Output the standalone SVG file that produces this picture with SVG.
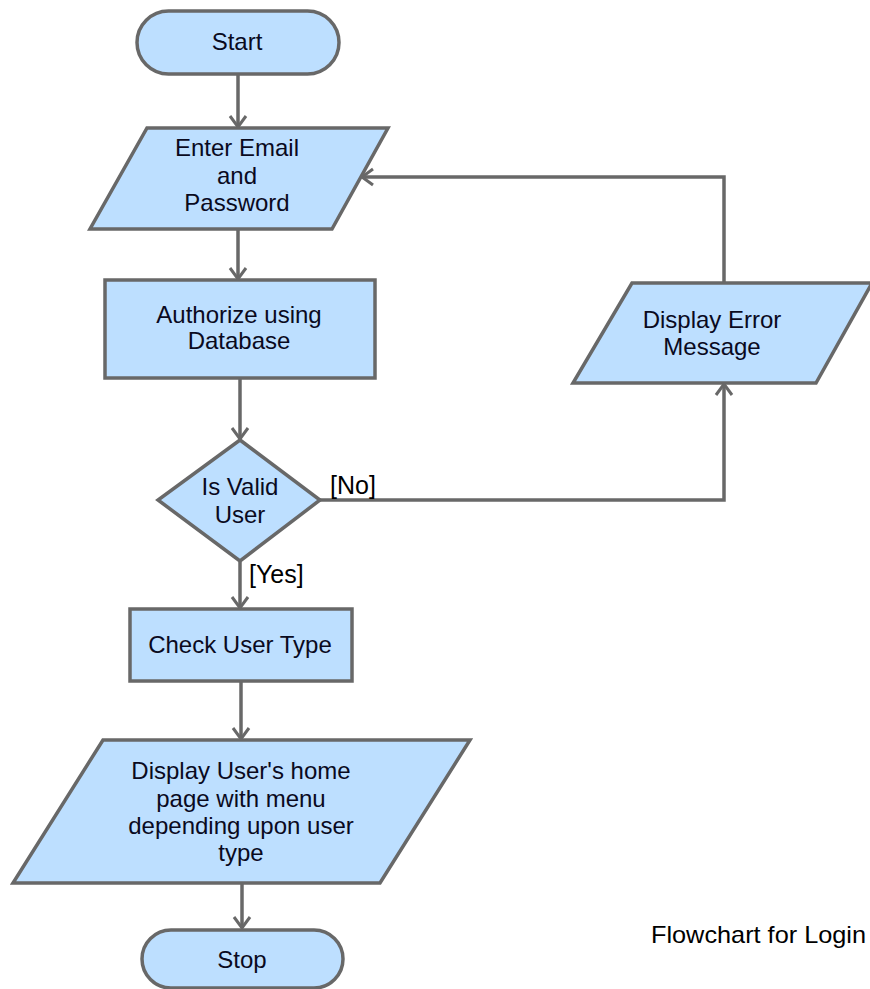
<svg xmlns="http://www.w3.org/2000/svg" width="870" height="989" viewBox="0 0 870 989">
  <style>
    .shape { fill: #bddfff; stroke: #686868; stroke-width: 3.5; stroke-linejoin: miter; }
    .edge { fill: none; stroke: #686868; stroke-width: 3.5; }
    .label { font-family: "Liberation Sans", Arial, sans-serif; font-size: 24px; fill: #0a0a1e; text-anchor: middle; }
    .guard { font-family: "Liberation Sans", Arial, sans-serif; font-size: 25px; fill: #000; }
    .caption { font-family: "Liberation Sans", Arial, sans-serif; font-size: 24px; fill: #000; }
  </style>
  <defs>
    <marker id="arrow" markerUnits="userSpaceOnUse" markerWidth="24" markerHeight="24" viewBox="-14 -12 16 24" refX="0" refY="0" orient="auto">
      <path d="M -11 -8 L 0 0 L -11 8" fill="none" stroke="#686868" stroke-width="3"/>
    </marker>
  </defs>
  <rect width="870" height="989" fill="#ffffff"/>

  <!-- connectors -->
  <g id="connectors">
    <path class="edge" d="M 238 74 L 238 127" marker-end="url(#arrow)"/>
    <path class="edge" d="M 238 229 L 238 279" marker-end="url(#arrow)"/>
    <path class="edge" d="M 240 379 L 240 439" marker-end="url(#arrow)"/>
    <path class="edge" d="M 240 562 L 240 608" marker-end="url(#arrow)"/>
    <path class="edge" d="M 241 682 L 241 739" marker-end="url(#arrow)"/>
    <path class="edge" d="M 242 884 L 242 928" marker-end="url(#arrow)"/>
    <path class="edge" d="M 320 500 L 724 500 L 724 384" marker-end="url(#arrow)"/>
    <path class="edge" d="M 724 283 L 724 177 L 362 177" marker-end="url(#arrow)"/>
    <text class="guard" x="330" y="494">[No]</text>
    <text class="guard" x="249" y="583">[Yes]</text>
  </g>

  <g id="start">
    <rect class="shape" x="137" y="11" width="202" height="63" rx="31.5" ry="31.5"/>
    <text class="label" x="237" y="50">Start</text>
  </g>

  <g id="enter-credentials">
    <polygon class="shape" points="147,128 388,128 332,229 90,229"/>
    <text class="label" x="237" y="156">Enter Email</text>
    <text class="label" x="237" y="184">and</text>
    <text class="label" x="237" y="211">Password</text>
  </g>

  <g id="authorize">
    <rect class="shape" x="105" y="280" width="270" height="98"/>
    <text class="label" x="239" y="323">Authorize using</text>
    <text class="label" x="239" y="349">Database</text>
  </g>

  <g id="is-valid">
    <polygon class="shape" points="240,440 320,500 240,561 158,500"/>
    <text class="label" x="240" y="495">Is Valid</text>
    <text class="label" x="240" y="523">User</text>
  </g>

  <g id="display-error">
    <polygon class="shape" points="632,283 872,283 816,383 573,383"/>
    <text class="label" x="712" y="328">Display Error</text>
    <text class="label" x="712" y="355">Message</text>
  </g>

  <g id="check-user-type">
    <rect class="shape" x="130" y="609" width="222" height="72"/>
    <text class="label" x="240" y="653">Check User Type</text>
  </g>

  <g id="display-home">
    <polygon class="shape" points="103,740 470,740 380,883 13,883"/>
    <text class="label" x="241" y="779">Display User's home</text>
    <text class="label" x="241" y="807">page with menu</text>
    <text class="label" x="241" y="834">depending upon user</text>
    <text class="label" x="241" y="861">type</text>
  </g>

  <g id="stop">
    <rect class="shape" x="142" y="930" width="201" height="58" rx="29" ry="29"/>
    <text class="label" x="242" y="968">Stop</text>
  </g>

  <text class="caption" x="651" y="943" textLength="215" lengthAdjust="spacingAndGlyphs">Flowchart for Login</text>
</svg>
